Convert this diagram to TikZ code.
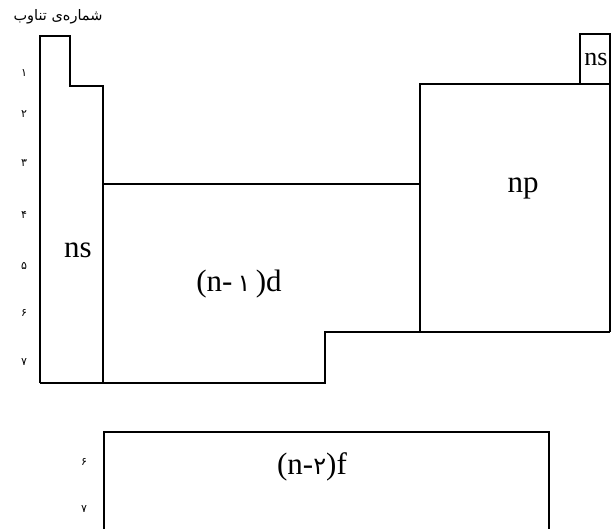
\documentclass[tikz,border=0pt]{standalone}
\usepackage{fontspec}
\setmainfont{Liberation Serif}
\newfontfamily\arabicfont[Script=Arabic]{DejaVu Sans}
\TeXXeTstate=1
\begin{document}
\begin{tikzpicture}[x=1pt,y=-1pt,
  blockline/.style={line width=1.3pt, line join=miter},
  blocklabel/.style={font=\fontsize{31}{34}\selectfont, inner sep=0pt},
  smalllabel/.style={font=\fontsize{26}{28}\selectfont, inner sep=0pt},
  periodnum/.style={font=\arabicfont\fontsize{11}{13}\selectfont, inner sep=0pt},
  innerdigit/.style={font=\arabicfont\fontsize{24}{28}\selectfont},
  titletext/.style={font=\arabicfont\fontsize{14.5}{16}\selectfont, inner sep=0pt}]
\useasboundingbox (0,0) rectangle (612,529);
% s block
\draw[blockline] (40,383) -- (40,36) -- (70,36) -- (70,86) -- (103,86) -- (103,383);
% bottom outline of s and d blocks, step to p block
\draw[blockline] (40,383) -- (325,383) -- (325,332) -- (610,332);
% d block top
\draw[blockline] (103,184) -- (420,184);
% p block
\draw[blockline] (420,332) -- (420,84) -- (610,84) -- (610,332);
% helium box
\draw[blockline] (580,84) -- (580,34) -- (610,34) -- (610,84);
% f block
\draw[blockline] (104,529) -- (104,432) -- (549,432) -- (549,529);
% labels
\node[titletext] (title) at (58,17) {\beginR شماره‌ی تناوب\endR};
\node[blocklabel] (ns) at (78,250) {ns};
\node[blocklabel] (d) at (239,284) {(n-\,{\arabicfont\fontsize{24}{28}\selectfont ۱}\,)d};
\node[blocklabel] (np) at (523,188) {np};
\node[smalllabel] (nsr) at (596,60) {ns};
\node[blocklabel] (f) at (312,467) {(n-{\arabicfont\fontsize{24}{28}\selectfont ۲})f};
% period numbers
\node[periodnum] (p1) at (24,73) {۱};
\node[periodnum] (p2) at (24,114) {۲};
\node[periodnum] (p3) at (24,163) {۳};
\node[periodnum] (p4) at (24,215) {۴};
\node[periodnum] (p5) at (24,266) {۵};
\node[periodnum] (p6) at (24,313) {۶};
\node[periodnum] (p7) at (24,362) {۷};
\node[periodnum] (f6) at (84,462) {۶};
\node[periodnum] (f7) at (84,509) {۷};
\end{tikzpicture}
\end{document}
